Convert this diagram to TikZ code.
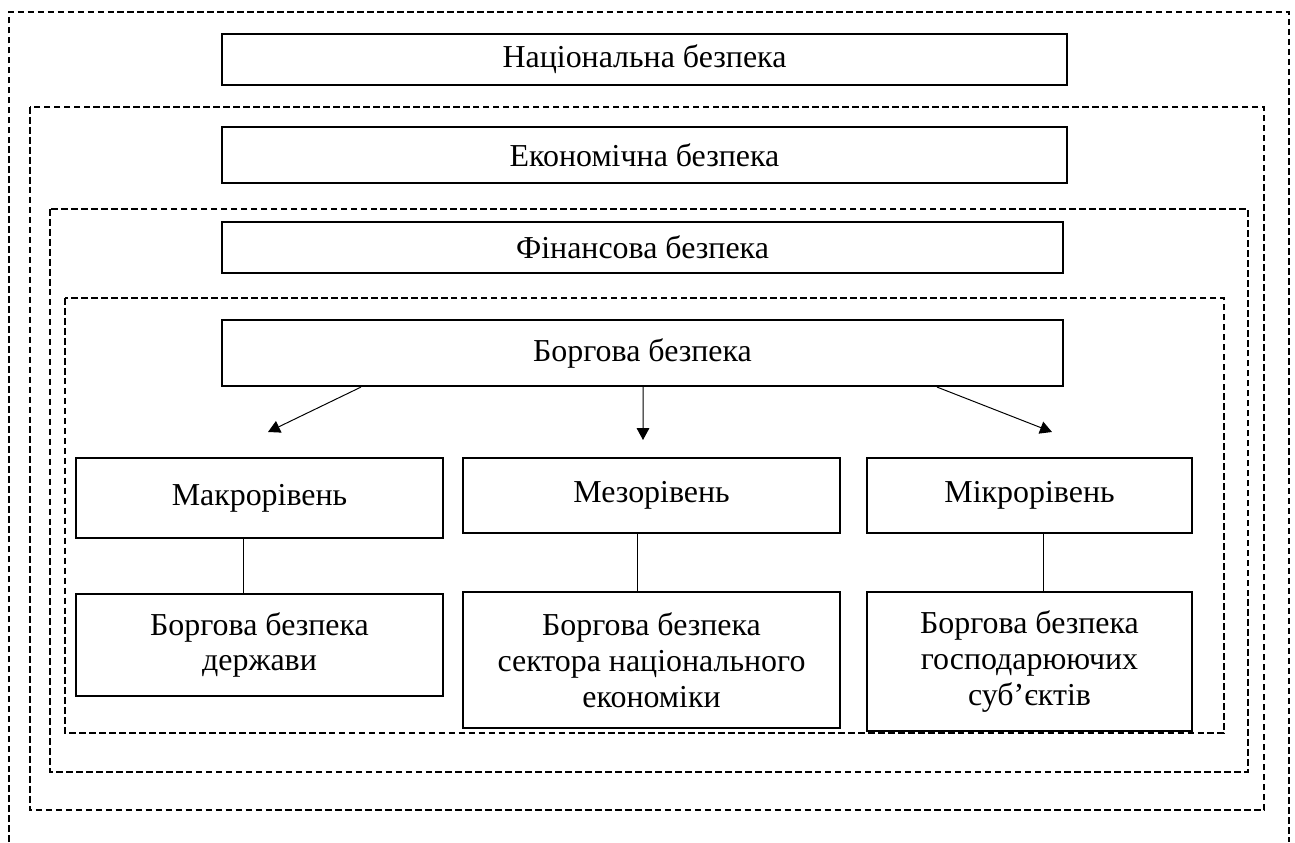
\documentclass[tikz,border=0pt]{standalone}
\usepackage{fontspec}
\setmainfont{Liberation Serif}
\usetikzlibrary{arrows.meta}
\usetikzlibrary{calc}

\begin{document}
\begin{tikzpicture}[
    x=0.025cm, y=-0.025cm,
    level/.style={rectangle,draw,line width=1.5pt,align=center,inner sep=0pt,
        font=\fontsize{22.7pt}{25.5pt}\selectfont},
    frame/.style={draw=black,line width=1.3pt,dash pattern=on 4.7pt off 2.4pt},
    link/.style={line width=0.8pt},
    arr/.style={line width=0.7pt,-{Triangle[length=8.5pt,width=9pt]}},
]
\useasboundingbox (0,0) rectangle (1295,842);

% nested dashed frames
\draw[frame] (9,842) -- (9,12) -- (1289,12) -- (1289,842);
\draw[frame] (30,107) rectangle (1264,810);
\draw[frame] (50,209) rectangle (1248,772);
\draw[frame] (65,298) rectangle (1224,733);

% security levels
\node[level, minimum width=21.125cm, minimum height=1.275cm] (nat) at (644.5,59.5) {Національна безпека};
\node[level, minimum width=21.125cm, minimum height=1.4cm] (econ) at (644.5,155) {Економічна безпека};
\node[level, minimum width=21.025cm, minimum height=1.275cm] (fin) at (642.5,247.5) {Фінансова безпека};
\node[level, minimum width=21.025cm, minimum height=1.65cm] (debt) at (642.5,353) {Боргова безпека};

% arrow ends
\coordinate (tipL) at (268,432);
\coordinate (tipM) at (643,440);
\coordinate (tipR) at (1052,432);
\draw[arr] ($(debt.south)+(-281.5,0)$) -- (tipL);
\draw[arr] ($(debt.south)+(0.5,0)$) -- (tipM);
\draw[arr] ($(debt.south)+(294.5,0)$) -- (tipR);

% macro, meso, micro
\node[level, minimum width=9.175cm, minimum height=2cm] (macro) at (259.5,498) {Макрорівень};
\node[level, minimum width=9.425cm, minimum height=1.875cm] (meso) at (651.5,495.5) {Мезорівень};
\node[level, minimum width=8.125cm, minimum height=1.875cm] (micro) at (1029.5,495.5) {Мікрорівень};

\node[level, minimum width=9.175cm, minimum height=2.55cm] (macrob) at (259.5,645) {Боргова безпека\\держави};
\node[level, minimum width=9.425cm, minimum height=3.4cm] (mesob) at (651.5,660) {Боргова безпека\\сектора національного\\економіки};
\node[level, minimum width=8.125cm, minimum height=3.475cm] (microb) at (1029.5,661.5) {Боргова безпека\\господарюючих\\суб’єктів};

% links
\draw[link] ([xshift=-0.41cm]macro.south) -- ([xshift=-0.41cm]macrob.north);
\draw[link] ([xshift=-0.34cm]meso.south) -- ([xshift=-0.34cm]mesob.north);
\draw[link] ([xshift=0.34cm]micro.south) -- ([xshift=0.34cm]microb.north);
\end{tikzpicture}
\end{document}
